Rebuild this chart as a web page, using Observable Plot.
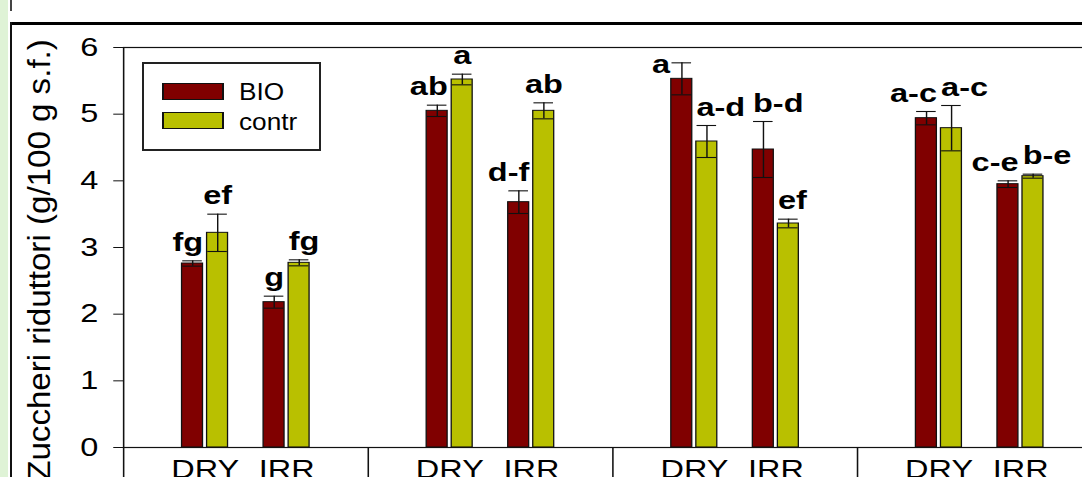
<!DOCTYPE html>
<html>
<head>
<meta charset="utf-8">
<script src="https://cdn.jsdelivr.net/npm/d3@7"></script>
<script src="https://cdn.jsdelivr.net/npm/@observablehq/plot@0.6"></script>
<style>
  html, body { margin: 0; padding: 0; background: #fff; }
  body { width: 1082px; height: 477px; overflow: hidden; position: relative;
         font-family: "Liberation Sans", Arial, sans-serif; color: #000; }
  #chart { position: absolute; left: 0; top: 0; }
  .strip { position: absolute; left: 0; top: 0; width: 8px; height: 477px; background: #dff3d6; }
  .frameTop { position: absolute; left: 10px; top: 22px; width: 1072px; height: 3px; background: #000; }
  .frameLeft { position: absolute; left: 10px; top: 22px; width: 2px; height: 455px; background: #111; }
  .mark { position: absolute; left: 10px; top: 0; width: 2px; height: 11px; background: #444; }
  #ytitle { position: absolute; left: 39px; top: 260px;
            transform: translate(-50%, -50%) rotate(-90deg) scaleX(1.068);
            font-size: 31px; line-height: 31px; white-space: nowrap; }
  #legend { position: absolute; left: 142px; top: 62px; width: 179px; height: 89px;
            border: 2px solid #222; box-sizing: border-box; background: #fff; }
  #legend .sw { position: absolute; left: 18px; width: 62px; height: 17px; box-sizing: border-box;
                border: 1px solid #111; border-left-width: 2px; border-right-width: 2px; }
  #legend .lab { position: absolute; left: 95px; font-size: 23px; line-height: 23px; white-space: nowrap;
                 transform: scaleX(1.14); transform-origin: 0 0; }
</style>
</head>
<body>
<div id="chart"></div>
<div class="strip"></div>
<div class="mark"></div>
<div class="frameTop"></div>
<div class="frameLeft"></div>
<div id="ytitle"></div>
<div id="legend"></div>
<script>
// ---- data ----
const yTitle = "Zuccheri riduttori (g/100 g s.f.)";
const groups = ["1", "2", "3", "4"];
const conditions = ["DRY", "IRR"];
const treatments = ["BIO", "contr"];
const colors = ["#800000", "#b9c000"];
// order: group1 DRY, group1 IRR, group2 DRY, ...
const bioMean = [2.76, 2.18, 5.05, 3.68, 5.53, 4.47, 4.94, 3.95];
const bioErr = [0.04, 0.09, 0.085, 0.17, 0.24, 0.42, 0.10, 0.05];
const contrMean = [3.22, 2.77, 5.52, 5.05, 4.59, 3.36, 4.79, 4.07];
const contrErr = [0.28, 0.045, 0.08, 0.12, 0.24, 0.065, 0.34, 0.03];
const bioLetters = ["fg", "g", "ab", "d-f", "a", "b-d", "a-c", "c-e"];
const contrLetters = ["ef", "fg", "a", "ab", "a-d", "ef", "a-c", "b-e"];
const yTicks = [0, 1, 2, 3, 4, 5, 6];
// letter alignment relative to its bar (style): R = right-aligned at bar right, L = left-aligned at bar left,
// C = centred, B = beside the bar on its left
const bioPlace = ["R", "C", "R", "R", "B", "L", "R", "R"];
const contrPlace = ["C", "L", "C", "C", "L", "L", "L", "L"];

// ---- layout ----
const s = 1.3;            // the reference picture is stretched horizontally
const W = 1110, H = 500;
const W0 = W / s;

const rows = [];
const catPos = [];
const condAt = new Map();
groups.forEach((g, gi) => conditions.forEach((c, ci) => {
  const k = gi * 2 + ci, pos = gi * 3 + ci;
  catPos.push(pos); condAt.set(pos, c);
  treatments.forEach((t, ti) => {
    const x1 = pos + (ti ? 0.025 : -0.282), x2 = pos + (ti ? 0.282 : -0.025);
    rows.push({
      group: g, cond: c, treat: t, x1, x2, xc: (x1 + x2) / 2,
      mean: ti ? contrMean[k] : bioMean[k],
      err: ti ? contrErr[k] : bioErr[k],
      letter: ti ? contrLetters[k] : bioLetters[k],
      place: ti ? contrPlace[k] : bioPlace[k]
    });
  });
}));
const bounds = groups.map((g, gi) => gi * 3 - 1).concat([groups.length * 3 - 1]);
const caps = rows.flatMap(d => [{...d, yc: d.mean + d.err}, {...d, yc: d.mean - d.err}]);

const placeAnchor = {R: ["x2", "end"], L: ["x1", "start"], C: ["xc", "middle"], B: ["x1", "end"]};
const letterMarks = Object.entries(placeAnchor).map(([p, [xk, anchor]]) =>
  Plot.text(rows.filter(d => d.place === p), {
    x: xk,
    y: p === "B" ? "mean" : d => d.mean + d.err,
    text: "letter",
    textAnchor: anchor,
    lineAnchor: "bottom",
    dy: p === "B" ? -6 : -10,
    dx: p === "B" ? -1 : 0,
    fontSize: 25,
    fontWeight: "bold",
    fill: "#000"
  })
);

const svg = Plot.plot({
  width: W0, height: H,
  marginLeft: 123 / s, marginRight: W0 - 1101.5 / s, marginTop: 47, marginBottom: H - 447,
  x: {type: "linear", domain: [-1, 11]},
  y: {domain: [0, 6]},
  color: {domain: treatments, range: colors},
  style: {background: "transparent", fontFamily: "'Liberation Sans', Arial, sans-serif", fontSize: "25px", color: "#000", overflow: "visible"},
  marks: [
    Plot.rect(rows, {x1: "x1", x2: "x2", y1: 0, y2: "mean", fill: "treat", stroke: "#111", strokeWidth: 1}),
    Plot.ruleX(rows, {x: "xc", y1: d => d.mean - d.err, y2: d => d.mean + d.err, stroke: "#111", strokeWidth: 1.1}),
    Plot.ruleY(caps, {y: "yc", x1: d => d.xc - 0.12, x2: d => d.xc + 0.12, stroke: "#111", strokeWidth: 1.1}),
    Plot.frame({stroke: "#111", strokeWidth: 1.2}),
    Plot.axisY({ticks: yTicks, tickFormat: d3.format("d"), tickSize: 7.5, tickPadding: 12, label: null, stroke: "#111"}),
    Plot.axisX({ticks: catPos, tickFormat: p => condAt.get(p), tickSize: 0, tickPadding: 13, label: null}),
    Plot.axisX({ticks: bounds, tickFormat: () => "", tickSize: H - 447, label: null, stroke: "#111", strokeWidth: 1.2}),
    ...letterMarks
  ]
});
svg.setAttribute("width", W);
svg.setAttribute("height", H);
svg.setAttribute("viewBox", `0 0 ${W0} ${H}`);
svg.setAttribute("preserveAspectRatio", "none");
svg.style.width = W + "px";
svg.style.height = H + "px";
svg.style.maxWidth = "none";
document.getElementById("chart").appendChild(svg);

document.getElementById("ytitle").textContent = yTitle;

const legend = document.getElementById("legend");
treatments.forEach((t, i) => {
  const sw = document.createElement("div");
  sw.className = "sw";
  sw.style.top = (19 + i * 29) + "px";
  sw.style.background = colors[i];
  legend.appendChild(sw);
  const lab = document.createElement("div");
  lab.className = "lab";
  lab.style.top = (16.5 + i * 30) + "px";
  lab.textContent = t;
  legend.appendChild(lab);
});
</script>
</body>
</html>
